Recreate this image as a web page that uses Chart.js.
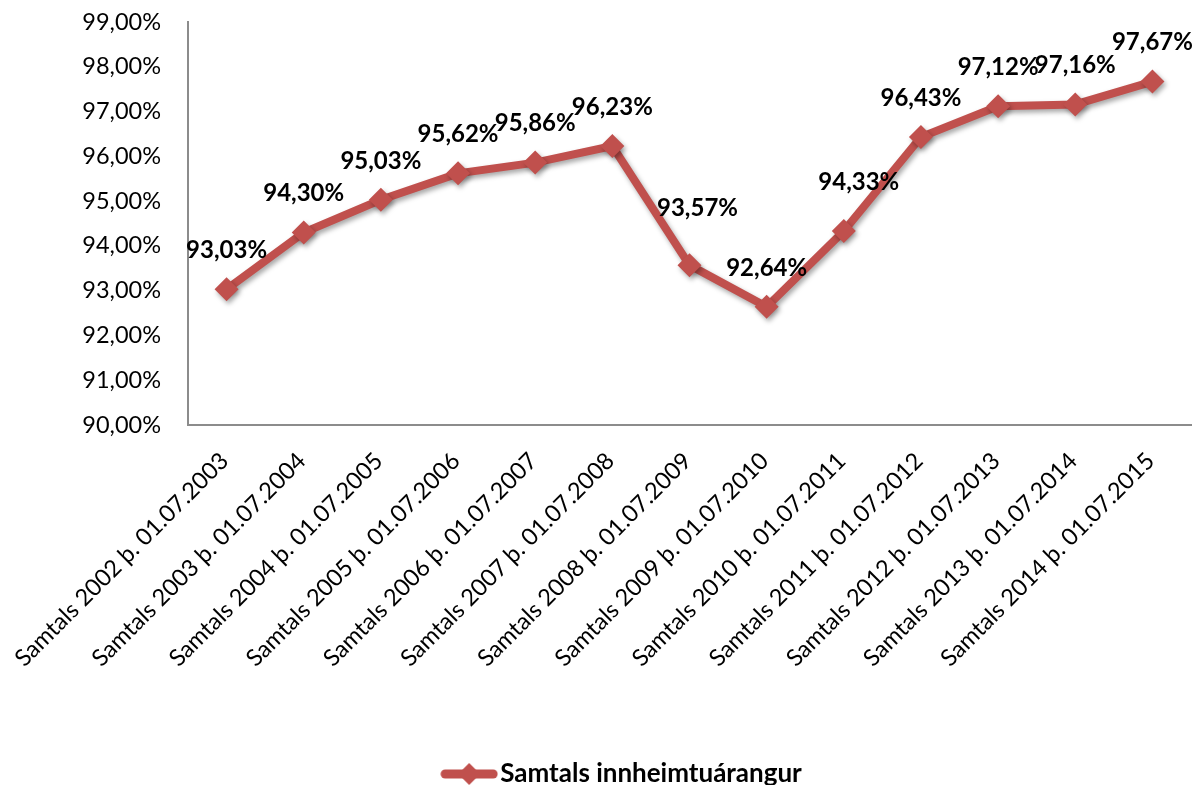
<!DOCTYPE html>
<html>
<head>
<meta charset="utf-8">
<script src="https://cdn.jsdelivr.net/npm/chart.js@4/dist/chart.umd.min.js"></script>
<style>
html,body{margin:0;padding:0;background:#fff;}
#wrap{width:1203px;height:785px;position:relative;}
</style>
</head>
<body>
<div id="wrap"><canvas id="c" width="1203" height="785"></canvas></div>
<script>
const categories = [
  "Samtals 2002 þ. 01.07.2003",
  "Samtals 2003 þ. 01.07.2004",
  "Samtals 2004 þ. 01.07.2005",
  "Samtals 2005 þ. 01.07.2006",
  "Samtals 2006 þ. 01.07.2007",
  "Samtals 2007 þ. 01.07.2008",
  "Samtals 2008 þ. 01.07.2009",
  "Samtals 2009 þ. 01.07.2010",
  "Samtals 2010 þ. 01.07.2011",
  "Samtals 2011 þ. 01.07.2012",
  "Samtals 2012 þ. 01.07.2013",
  "Samtals 2013 þ. 01.07.2014",
  "Samtals 2014 þ. 01.07.2015"
];
const seriesName = "Samtals innheimtuárangur";
const values = [93.03, 94.30, 95.03, 95.62, 95.86, 96.23, 93.57, 92.64, 94.33, 96.43, 97.12, 97.16, 97.67];
const yMin = 90, yMax = 99, yStep = 1;

const RED = '#C0504D';
const FONT = 'Lato, "Open Sans", sans-serif';
const fmt = v => v.toFixed(2).replace('.', ',') + '%';

// legend symbol: line with diamond
const legendIcon = document.createElement('canvas');
legendIcon.width = 58; legendIcon.height = 26;
(function(){
  const g = legendIcon.getContext('2d');
  g.strokeStyle = RED; g.lineWidth = 9; g.lineCap = 'round';
  g.beginPath(); g.moveTo(5,13); g.lineTo(53,13); g.stroke();
  g.fillStyle = RED;
  g.beginPath(); g.moveTo(29,2); g.lineTo(40,13); g.lineTo(29,24); g.lineTo(18,13); g.closePath(); g.fill();
})();

const labelOffsets = {
  default: {dx: 0, dy: -39},
  6: {dx: 8, dy: -57},
  8: {dx: 15, dy: -49}
};

const shadowPlugin = {
  id: 'shadow',
  beforeDatasetDraw(chart) {
    const ctx = chart.ctx;
    ctx.save();
    ctx.shadowColor = 'rgba(0,0,0,0.35)';
    ctx.shadowBlur = 5;
    ctx.shadowOffsetX = 2;
    ctx.shadowOffsetY = 3;
  },
  afterDatasetDraw(chart) {
    chart.ctx.restore();
  }
};

const legendShift = {
  id: 'legendShift',
  afterLayout(chart) {
    if (chart.legend) { chart.legend.left += 24; chart.legend.right += 24; }
  }
};

const dataLabelPlugin = {
  id: 'dataLabels',
  afterDatasetsDraw(chart) {
    const ctx = chart.ctx;
    const meta = chart.getDatasetMeta(0);
    ctx.save();
    ctx.font = 'bold 24px ' + FONT;
    ctx.fillStyle = '#000';
    ctx.textAlign = 'center';
    ctx.textBaseline = 'middle';
    meta.data.forEach((pt, i) => {
      const o = labelOffsets[i] || labelOffsets.default;
      ctx.fillText(fmt(chart.data.datasets[0].data[i]), pt.x + o.dx, pt.y + o.dy);
    });
    ctx.restore();
  }
};

new Chart(document.getElementById('c'), {
  type: 'line',
  data: {
    labels: categories,
    datasets: [{
      label: seriesName,
      data: values,
      borderColor: RED,
      backgroundColor: RED,
      borderWidth: 8,
      pointStyle: 'rectRot',
      pointRadius: 12,
      pointHoverRadius: 12,
      pointBackgroundColor: RED,
      pointBorderColor: RED,
      pointBorderWidth: 0,
      tension: 0,
      fill: false
    }]
  },
  options: {
    responsive: false,
    animation: false,
    devicePixelRatio: 1,
    layout: { padding: { left: 10, right: 8, top: 22, bottom: -12 } },
    plugins: {
      tooltip: { enabled: false },
      legend: {
        position: 'bottom',
        labels: {
          usePointStyle: true,
          pointStyle: legendIcon,
          pointStyleWidth: 36,
          color: '#000',
          font: { family: FONT, size: 26, weight: 'bold' },
          padding: 0,
          generateLabels(chart) {
            return [{
              text: seriesName,
              pointStyle: legendIcon,
              fillStyle: RED,
              strokeStyle: RED,
              lineWidth: 0,
              hidden: false,
              datasetIndex: 0,
              fontColor: '#000'
            }];
          }
        }
      }
    },
    scales: {
      x: {
        offset: true,
        grid: { display: false, drawTicks: false },
        border: { display: true, color: '#8C8C8C', width: 2 },
        ticks: {
          autoSkip: false,
          maxRotation: 45,
          minRotation: 45,
          padding: 22,
          labelOffset: -2,
          color: '#000',
          font: { family: FONT, size: 23.5 }
        },
        afterFit(scale) { scale.height = 336; scale.paddingTop = 0; scale.paddingLeft = 0; scale.paddingRight = 0; }
      },
      y: {
        min: yMin,
        max: yMax,
        grid: { display: false, drawTicks: false },
        border: { display: true, color: '#8C8C8C', width: 2 },
        ticks: {
          stepSize: yStep,
          padding: 27,
          color: '#000',
          font: { family: FONT, size: 23.5 },
          callback: v => fmt(v)
        },
        afterFit(scale) { scale.width = 178; scale.paddingTop = 0; scale.paddingBottom = 0; }
      }
    }
  },
  plugins: [shadowPlugin, dataLabelPlugin, legendShift]
});
</script>
</body>
</html>
